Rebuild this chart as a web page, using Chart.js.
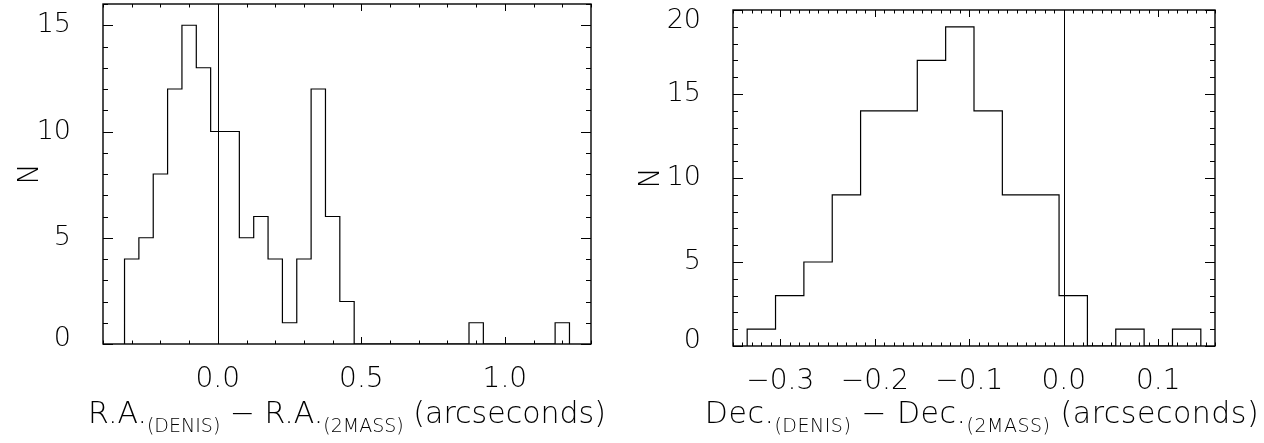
<!DOCTYPE html>
<html>
<head>
<meta charset="utf-8">
<script src="https://cdn.jsdelivr.net/npm/chart.js@4/dist/chart.umd.min.js"></script>
<style>
html, body { margin: 0; padding: 0; background: #fff; }
#wrap { position: relative; width: 1264px; height: 443px; }
.box { position: absolute; top: 0; width: 632px; height: 443px; }
</style>
</head>
<body>
<div id="wrap">
  <div class="box" style="left:0"><canvas id="raChart" width="632" height="443"></canvas></div>
  <div class="box" style="left:632px"><canvas id="decChart" width="632" height="443"></canvas></div>
</div>
<script>
// R.A. offsets: bins of 0.05", first bin starts at -0.325"
var raBinStart = -0.325;
var raBinWidth = 0.05;
var raCounts = [4, 5, 8, 12, 15, 13, 10, 10, 5, 6, 4, 1, 4, 12, 6, 2,
                0, 0, 0, 0, 0, 0, 0, 0, 1, 0, 0, 0, 0, 0, 1];
var raTickLabels = [0.0, 0.5, 1.0];
var raYTicks = [0, 5, 10, 15];

// Dec. offsets: bins of 0.03", first bin starts at -0.335"
var decBinStart = -0.335;
var decBinWidth = 0.03;
var decCounts = [1, 3, 5, 9, 14, 14, 17, 19, 14, 9, 9, 3, 0, 1, 0, 1];
var decTickLabels = [-0.3, -0.2, -0.1, 0.0, 0.1];
var decYTicks = [0, 5, 10, 15, 20];

var FONT = "'DejaVu Sans', sans-serif";

// turn bin counts into the outline of a histogram
function stepPoints(start, width, counts) {
    var pts = [{x: start, y: 0}];
    counts.forEach(function (c, i) {
        pts.push({x: start + i * width, y: c});
    });
    pts.push({x: start + counts.length * width, y: 0});
    return pts;
}

function fmt(v) {
    return v.toFixed(1).replace('-', '\u2212');
}

// IDL style frame: ticks inside on all four sides, zero line, x title with subscripts
var idlAxes = {
    id: 'idlAxes',
    beforeDraw: function (chart, args, o) {
        // nudge the end labels of the y axis inside the frame, like the original
        var ys = chart.scales.y;
        var items = ys.getLabelItems(chart.chartArea);
        items.forEach(function (it, i) {
            var v = ys.ticks[i].value;
            if (v === 0) it.options.translation[1] -= o.bottomShift;
            if (v === ys.max) it.options.translation[1] += o.topShift;
        });
    },
    afterDraw: function (chart, args, o) {
        var ctx = chart.ctx, a = chart.chartArea;
        var xs = chart.scales.x, ys = chart.scales.y;
        function seg(x1, y1, x2, y2) {
            ctx.beginPath(); ctx.moveTo(x1, y1); ctx.lineTo(x2, y2); ctx.stroke();
        }
        ctx.save();
        ctx.strokeStyle = '#000';
        ctx.lineWidth = 1;
        var k, px, len;
        for (k = Math.ceil(xs.min / o.xMinor - 1e-6); k * o.xMinor <= xs.max + 1e-6; k++) {
            px = Math.round(xs.getPixelForValue(k * o.xMinor)) + 0.5;
            len = (k % o.xPer === 0) ? o.xMajorLen : o.xMajorLen / 2;
            seg(px, a.bottom, px, a.bottom - len);
            seg(px, a.top, px, a.top + len);
        }
        for (k = 0; k * o.yMinor <= ys.max + 1e-6; k++) {
            px = Math.round(ys.getPixelForValue(k * o.yMinor)) + 0.5;
            len = (k % o.yPer === 0) ? o.yMajorLen : o.yMajorLen / 2;
            seg(a.left, px, a.left + len, px);
            seg(a.right, px, a.right - len, px);
        }
        // vertical line at zero offset
        px = Math.round(xs.getPixelForValue(0)) + 0.5;
        seg(px, a.top, px, a.bottom);
        ctx.lineWidth = 1.4;
        ctx.strokeRect(a.left, a.top, a.right - a.left, a.bottom - a.top);

        // x title
        ctx.fillStyle = '#000';
        ctx.textBaseline = 'alphabetic';
        ctx.textAlign = 'left';
        ctx.letterSpacing = o.spacing + 'px';
        var total = 0;
        o.title.forEach(function (p) {
            ctx.font = '200 ' + (p[1] ? o.subSize : o.size) + 'px ' + FONT;
            total += ctx.measureText(p[0]).width;
        });
        var x = o.titleX - total / 2;
        o.title.forEach(function (p) {
            ctx.font = '200 ' + (p[1] ? o.subSize : o.size) + 'px ' + FONT;
            ctx.fillText(p[0], x, o.titleY + (p[1] ? o.subDy : 0));
            x += ctx.measureText(p[0]).width;
        });
        ctx.restore();
    }
};

function histChart(id, pts, xmin, xmax, ymax, xLabels, yLabels, pad, yWidth, xHeight, nPad, deco) {
    return new Chart(document.getElementById(id).getContext('2d'), {
        type: 'line',
        data: {
            datasets: [{
                data: pts,
                stepped: 'before',
                borderColor: '#000',
                borderWidth: 1.2,
                pointRadius: 0,
                fill: false
            }]
        },
        options: {
            responsive: false,
            animation: false,
            devicePixelRatio: 1,
            layout: {autoPadding: false, padding: pad},
            plugins: {legend: {display: false}, tooltip: {enabled: false}, idlAxes: deco},
            scales: {
                x: {
                    type: 'linear', min: xmin, max: xmax,
                    grid: {display: false}, border: {display: false},
                    afterBuildTicks: function (s) { s.ticks = xLabels.map(function (v) { return {value: v}; }); },
                    afterFit: function (s) { s.height = xHeight; s.paddingLeft = 0; s.paddingRight = 0; },
                    ticks: {color: '#000', padding: 11, maxRotation: 0, autoSkip: false,
                            font: {family: FONT, size: 28, weight: 200},
                            callback: function (v) { return fmt(v); }}
                },
                y: {
                    type: 'linear', min: 0, max: ymax,
                    grid: {display: false}, border: {display: false},
                    afterBuildTicks: function (s) { s.ticks = yLabels.map(function (v) { return {value: v}; }); },
                    afterFit: function (s) { s.width = yWidth; s.paddingTop = 0; s.paddingBottom = 0; },
                    ticks: {color: '#000', padding: 24, autoSkip: false,
                            font: {family: FONT, size: 27, weight: 200}},
                    title: {display: true, text: 'N', color: '#000', padding: {top: nPad},
                            font: {family: FONT, size: 28, weight: 200}}
                }
            }
        },
        plugins: [idlAxes]
    });
}

histChart('raChart', stepPoints(raBinStart, raBinWidth, raCounts), -0.4, 1.3, 16,
    raTickLabels, raYTicks, {left: 0, top: 4, right: 41, bottom: 0}, 103, 99, 14,
    {xMinor: 0.1, xPer: 5, xMajorLen: 7, yMinor: 1, yPer: 5, yMajorLen: 10,
     bottomShift: 5, topShift: 0,
     size: 30, subSize: 19, subDy: 9, spacing: 0, titleX: 347, titleY: 423,
     title: [['R.A.', 0], ['(DENIS)', 1], [' \u2212 ', 0], ['R.A.', 0], ['(2MASS)', 1], [' (arcseconds)', 0]]});

histChart('decChart', stepPoints(decBinStart, decBinWidth, decCounts), -0.35, 0.16, 20,
    decTickLabels, decYTicks, {left: 0, top: 10, right: 49, bottom: 0}, 101, 97, 3,
    {xMinor: 0.01, xPer: 10, xMajorLen: 7, yMinor: 1, yPer: 5, yMajorLen: 10,
     bottomShift: 5, topShift: 11,
     size: 30, subSize: 19, subDy: 9, spacing: 0.5, titleX: 350, titleY: 423,
     title: [['Dec.', 0], ['(DENIS)', 1], [' \u2212 ', 0], ['Dec.', 0], ['(2MASS)', 1], [' (arcseconds)', 0]]});
</script>
</body>
</html>
